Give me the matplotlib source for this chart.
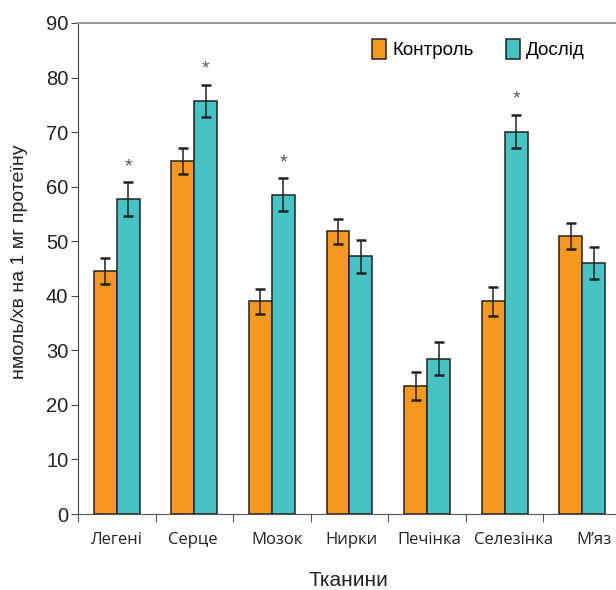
import matplotlib.pyplot as plt
import matplotlib.transforms as mtransforms
import numpy as np

tissues = ["Легені", "Серце", "Мозок", "Нирки", "Печінка", "Селезінка", "М\u2019яз"]
control = [44.5, 64.7, 39.0, 51.8, 23.5, 39.0, 51.0]
control_err = [2.4, 2.3, 2.3, 2.3, 2.6, 2.7, 2.4]
experiment = [57.7, 75.7, 58.5, 47.2, 28.5, 70.1, 46.0]
experiment_err = [3.1, 3.0, 3.0, 3.0, 3.0, 3.1, 3.0]
significant = [True, True, True, False, False, True, False]

orange = "#F7971E"
teal = "#47C2C5"

plt.rcParams['font.family'] = ['Liberation Sans', 'DejaVu Sans']

fig = plt.figure(figsize=(6.16, 5.9), dpi=100)
# the right part of the plot is cut off by the figure edge, as in the original
ax = fig.add_axes([78/616, 76/590, 543/616, 491/590])

x = np.arange(len(tissues)) + 0.5
w = 0.295
ax.bar(x - w/2, control, w, color=orange, edgecolor="#222222", linewidth=1.1, label="Контроль", zorder=2)
ax.bar(x + w/2, experiment, w, color=teal, edgecolor="#222222", linewidth=1.1, label="Дослід", zorder=2)
ax.errorbar(x - w/2, control, yerr=control_err, fmt="none", ecolor="#222222", elinewidth=1.1, capsize=3.8, capthick=1.8, zorder=3)
ax.errorbar(x + w/2, experiment, yerr=experiment_err, fmt="none", ecolor="#222222", elinewidth=1.1, capsize=3.8, capthick=1.8, zorder=3)

for xi, v, e, s in zip(x, experiment, experiment_err, significant):
    if s:
        ax.text(xi + w/2, v + e + 1.3, "*", ha="center", va="bottom", fontsize=14, color="#555555")

ax.set_xlim(0, len(tissues))
ax.set_ylim(0, 90)
ax.set_yticks(np.arange(0, 91, 10))
ax.tick_params(axis="y", labelsize=14.5, length=5, pad=2, color="#444444", labelcolor="#222222")

ax.set_xticks(np.arange(0, len(tissues)))
ax.set_xticklabels([])
ax.tick_params(axis="x", length=6, color="#555555")
ax.set_xticks(x, minor=True)
ax.set_xticklabels(tissues, minor=True, fontsize=12, family=['Open Sans', 'DejaVu Sans'])
ax.tick_params(axis="x", which="minor", length=0, pad=13, labelcolor="#222222")

# labels in the original are not quite centred
shifts = [-1, -2, 5, 2, 2, 9, 12]
for lab, dx in zip(ax.get_xticklabels(minor=True), shifts):
    lab.set_transform(lab.get_transform() + mtransforms.ScaledTranslation(dx / 100, 0, fig.dpi_scale_trans))

ax.spines["top"].set_color("#999999")
ax.spines["top"].set_linewidth(1.5)
ax.spines["right"].set_visible(False)
ax.spines["left"].set_color("#444444")
ax.spines["bottom"].set_color("#555555")

fig.text(20/616, 1 - 262/590, "нмоль/хв на 1 мг протеїну", rotation=90, ha="center", va="center",
         fontsize=14, color="#222222")
fig.text(348/616, 1 - 580/590, "Тканини", ha="center", va="center", fontsize=15, color="#222222")

ax.legend(loc="center left", bbox_to_anchor=(0.51, 1 - 26/491), ncol=2, frameon=False, fontsize=13.5,
          handlelength=0.75, handleheight=1.25, handletextpad=0.35, columnspacing=1.7)

plt.savefig("out.png", dpi=100)
